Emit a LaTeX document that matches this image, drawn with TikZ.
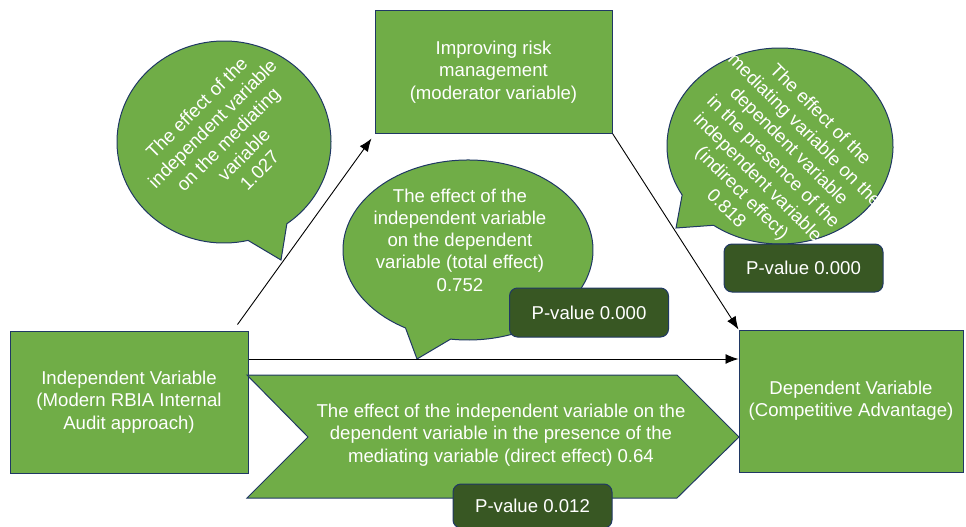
\documentclass[tikz,border=0pt]{standalone}
\usepackage{fontspec}
\setmainfont{Liberation Sans}
\usetikzlibrary{calc,arrows.meta}
\definecolor{boxgreen}{RGB}{112,173,71}
\definecolor{pgreen}{RGB}{56,87,35}
\definecolor{edgeblue}{RGB}{32,56,100}

\begin{document}
\begin{tikzpicture}[x=1pt,y=-1pt,
	lbl/.style={text=white,align=center,font=\fontsize{18.6}{22.2}\selectfont},
	varbox/.style={lbl,draw=edgeblue,fill=boxgreen,line width=1pt,inner sep=0pt},
	pbox/.style={lbl,draw=edgeblue,fill=pgreen,rounded corners=8pt,line width=1pt,minimum width=159pt,inner sep=0pt},
	bubble/.style={draw=edgeblue,fill=boxgreen,line width=1pt},
	arr/.style={-{Latex[length=13pt,width=10pt]},line width=0.9pt}]
				%%%%% START %%%%%
				\useasboundingbox (0,0) rectangle (966,527);

				% the three variables
				\node[varbox,minimum width=237pt,minimum height=122pt] (moder) at (493.5,72) {Improving risk\\management\\(moderator variable)};
				\node[varbox,minimum width=238pt,minimum height=142pt] (indep) at (129,402) {Independent Variable\\(Modern RBIA Internal\\Audit approach)};
				\node[varbox,minimum width=224pt,minimum height=142pt] (dep) at (851,401) {Dependent Variable\\(Competitive Advantage)};

				% first bubble
				\def\lcx{224}
				\def\lcy{142}
				\filldraw[bubble] ($(\lcx,\lcy)+(77:107 and 101)$) arc[start angle=77,end angle=414,x radius=107,y radius=101] -- (281,260) -- cycle;
				\node[lbl,rotate=45] (medtxt) at (228,139) {The effect of the\\independent variable\\on the mediating\\variable\\1.027};

				% second bubble
				\def\mcx{468}
				\def\mcy{250}
				\filldraw[bubble] ($(\mcx,\mcy)+(120:125 and 90)$) arc[start angle=120,end angle=458,x radius=125,y radius=90] -- (417,359) -- cycle;
				\node[lbl] (totaltxt) at (460,240) {The effect of the\\independent variable\\on the dependent\\variable (total effect)\\0.752};

				% third bubble
				\def\rcx{780}
				\def\rcy{146}
				\filldraw[bubble] ($(\rcx,\rcy)+(150:113 and 98)$) arc[start angle=150,end angle=486,x radius=113,y radius=98] -- (676,228) -- cycle;
				\node[lbl,rotate=-45] (indtxt) at (774,161) {The effect of the\\mediating variable on the\\dependent variable\\in the presence of the\\independent variable\\(indirect effect)\\0.818};

				% chevron
				\filldraw[bubble] (247,375) -- (677,375) -- (739,437) -- (677,498) -- (247,498) -- (308,437) -- cycle;
				\node[lbl] (directtxt) at (501,435) {The effect of the independent variable on the\\dependent variable in the presence of the\\mediating variable (direct effect) 0.64};

				% arrows
				\draw[arr] ($(indep.north east)+(-11,-6)$) -- ($(moder.south west)+(-3,5)$);
				\draw[arr] (moder.south east) -- (dep.north west);
				\coordinate (hs) at ($(indep.east)+(0,-43)$);
				\draw[arr] (hs) -- (dep.west |- hs);

				% p-values
				\node[pbox,minimum height=49pt] (ptotal) at (589,312.5) {P-value 0.000};
				\node[pbox,minimum height=48pt] (pind) at (803.5,268) {P-value 0.000};
				\node[pbox,minimum height=44pt] (pdirect) at (532.5,506) {P-value 0.012};
				%%%%% START %%%%%
\end{tikzpicture}
\end{document}
